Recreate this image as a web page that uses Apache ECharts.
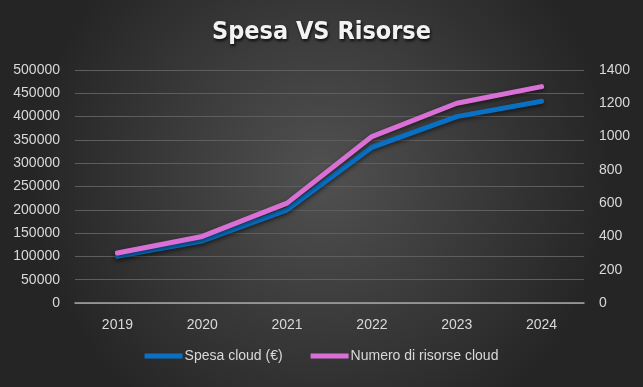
<!DOCTYPE html>
<html>
<head>
<meta charset="utf-8">
<script src="https://cdn.jsdelivr.net/npm/echarts@6/dist/echarts.min.js"></script>
<style>html,body{margin:0;padding:0;background:#333;}#c{width:643px;height:387px;}</style>
</head>
<body>
<div id="c"></div>
<script>
var categories = ['2019', '2020', '2021', '2022', '2023', '2024'];
var spesaCloud = [100000, 133000, 200000, 334000, 400000, 433000];
var numeroRisorse = [300, 400, 600, 1000, 1200, 1300];
var leftTicks = {min: 0, max: 500000, interval: 50000};
var rightTicks = {min: 0, max: 1400, interval: 200};

var chart = echarts.init(document.getElementById('c'));
var labelColor = '#d9d9d9';
var font = 'Liberation Sans';
var plain = function (v) { return String(v); };
chart.setOption({
  animation: false,
  backgroundColor: {
    type: 'radial', x: 0.5, y: 0.45, r: 0.75,
    colorStops: [{offset: 0, color: '#515151'}, {offset: 1, color: '#252525'}]
  },
  title: {
    text: 'Spesa VS Risorse',
    left: 'center', top: 15,
    textStyle: {
      color: '#f2f2f2', fontSize: 25, fontWeight: 'bold', fontFamily: 'DejaVu Sans Condensed',
      textShadowColor: 'rgba(0,0,0,0.8)', textShadowBlur: 3, textShadowOffsetX: 1, textShadowOffsetY: 2
    }
  },
  grid: {left: 75, right: 59, top: 70, bottom: 84},
  legend: {
    bottom: 19, left: 'center',
    icon: 'rect', itemWidth: 38, itemHeight: 5, itemGap: 28,
    textStyle: {color: labelColor, fontSize: 14, fontFamily: font, padding: [0, 0, 0, -3]},
    data: ['Spesa cloud (€)', 'Numero di risorse cloud']
  },
  xAxis: {
    type: 'category', data: categories, boundaryGap: true,
    axisLine: {lineStyle: {color: '#a6a6a6', width: 1.5}},
    axisTick: {show: false},
    axisLabel: {color: labelColor, fontSize: 14, fontFamily: font, margin: 15}
  },
  yAxis: [{
    type: 'value', min: leftTicks.min, max: leftTicks.max, interval: leftTicks.interval,
    axisLine: {show: false}, axisTick: {show: false},
    axisLabel: {color: labelColor, fontSize: 14, fontFamily: font, margin: 15, formatter: plain},
    splitLine: {lineStyle: {color: '#5e5e5e', width: 1}}
  }, {
    type: 'value', min: rightTicks.min, max: rightTicks.max, interval: rightTicks.interval,
    axisLine: {show: false}, axisTick: {show: false},
    axisLabel: {color: labelColor, fontSize: 14, fontFamily: font, margin: 15, formatter: plain},
    splitLine: {show: false}
  }],
  series: [{
    name: 'Spesa cloud (€)', type: 'line', yAxisIndex: 0, data: spesaCloud,
    symbol: 'none', color: '#0a70c4',
    lineStyle: {width: 5, color: '#0a70c4', shadowColor: 'rgba(0,0,0,0.55)', shadowBlur: 4, shadowOffsetY: 2, cap: 'round'}
  }, {
    name: 'Numero di risorse cloud', type: 'line', yAxisIndex: 1, data: numeroRisorse,
    symbol: 'none', color: '#d970d6',
    lineStyle: {width: 5, color: '#d970d6', shadowColor: 'rgba(0,0,0,0.55)', shadowBlur: 4, shadowOffsetY: 2, cap: 'round'}
  }]
});
</script>
</body>
</html>
